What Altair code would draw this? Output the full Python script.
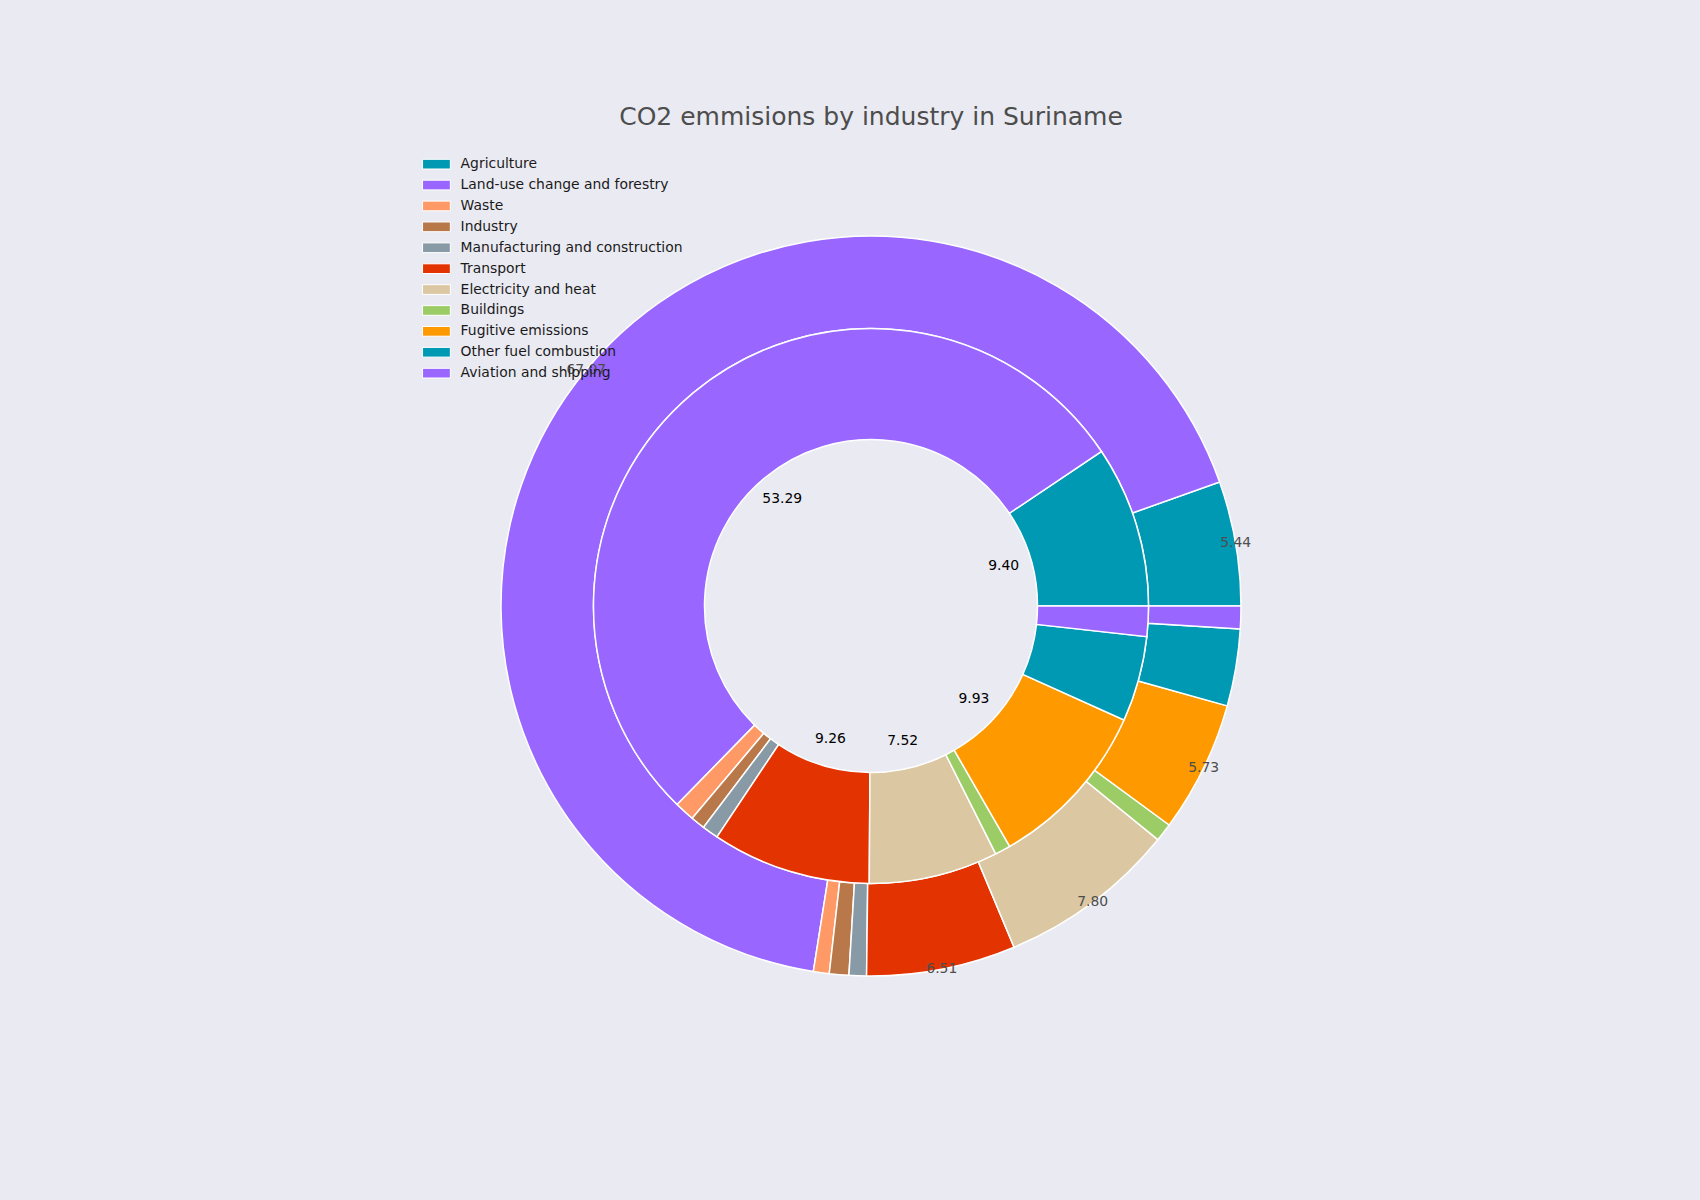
import math
import altair as alt
import pandas as pd

# ---- data ----
sectors = [
    "Agriculture",
    "Land-use change and forestry",
    "Waste",
    "Industry",
    "Manufacturing and construction",
    "Transport",
    "Electricity and heat",
    "Buildings",
    "Fugitive emissions",
    "Other fuel combustion",
    "Aviation and shipping",
]
colors = [
    "#0099b4", "#9966ff", "#ff9966", "#b8784a", "#889aa5", "#e33300",
    "#dbc7a1", "#9ccc66", "#ff9900", "#0099b4", "#9966ff",
]
# outer ring (percent of total)
outer_pct = [5.44, 67.07, 0.69, 0.85, 0.76, 6.51, 7.80, 0.80, 5.73, 3.36, 0.99]
# inner ring (percent of total)
inner_pct = [9.40, 53.29, 1.17, 0.83, 0.95, 9.26, 7.52, 0.91, 9.93, 4.98, 1.76]

title_text = "CO2 emmisions by industry in Suriname"

rows = []
for i, s in enumerate(sectors):
    rows.append({"sector": s, "idx": i, "ring": "outer", "pct": outer_pct[i]})
    rows.append({"sector": s, "idx": i, "ring": "inner", "pct": inner_pct[i]})
df = pd.DataFrame(rows)

R = 370.0
theta_scale = alt.Scale(domain=[0, 100], range=[2.5 * math.pi, 0.5 * math.pi])
color_scale = alt.Scale(domain=sectors, range=colors)

legend = alt.Legend(
    title=None,
    orient="none",
    legendX=217.5,
    legendY=13.2,
    direction="vertical",
    symbolType="M-2.78,-0.97H2.78V0.97H-2.78Z",
    symbolSize=100,
    symbolStrokeColor="white",
    symbolStrokeWidth=1,
    symbolOpacity=1,
    labelFont="DejaVu Sans",
    labelFontSize=13.9,
    labelColor="#1a1a1a",
    labelOffset=17.2,
    labelLimit=400,
    rowPadding=5.9,
    padding=0,
)

base = alt.Chart(df)


def ring_arcs(ring, r_out, r_in):
    return base.transform_filter(alt.datum.ring == ring).mark_arc(
        radius=r_out, radius2=r_in, stroke="white", strokeWidth=1.5
    ).encode(
        theta=alt.Theta("pct:Q", stack=True, scale=theta_scale),
        order=alt.Order("idx:Q", sort="ascending"),
        color=alt.Color("sector:N", scale=color_scale, legend=legend),
    )


def ring_labels(ring, r, col):
    return base.transform_filter(alt.datum.ring == ring).transform_calculate(
        lab="datum.pct > 5 ? format(datum.pct, '.2f') : ''"
    ).mark_text(
        radius=r, font="DejaVu Sans", fontSize=13.9, color=col,
        align="center", baseline="middle"
    ).encode(
        theta=alt.Theta("pct:Q", stack=True, scale=theta_scale),
        order=alt.Order("idx:Q", sort="ascending"),
        text="lab:N",
    )


chart = alt.layer(
    ring_arcs("outer", R, R * 0.75),
    ring_arcs("inner", R * 0.75, R * 0.45),
    ring_labels("outer", R * 1.0, "#4d4d4d"),
    ring_labels("inner", R * 0.375, "#000000"),
).properties(
    width=1318,
    height=924,
    title=alt.TitleParams(
        title_text, font="DejaVu Sans", fontSize=25, fontWeight="normal",
        color="#4d4d4d", anchor="middle", frame="group", baseline="alphabetic",
        offset=-5.5,
    ),
    padding={"left": 212, "top": 144, "right": 170, "bottom": 132},
    autosize=alt.AutoSizeParams(type="none"),
    background="#eaeaf2",
).configure_view(stroke=None)

chart.save("out.html", embed_options={"renderer": "svg", "actions": False})
